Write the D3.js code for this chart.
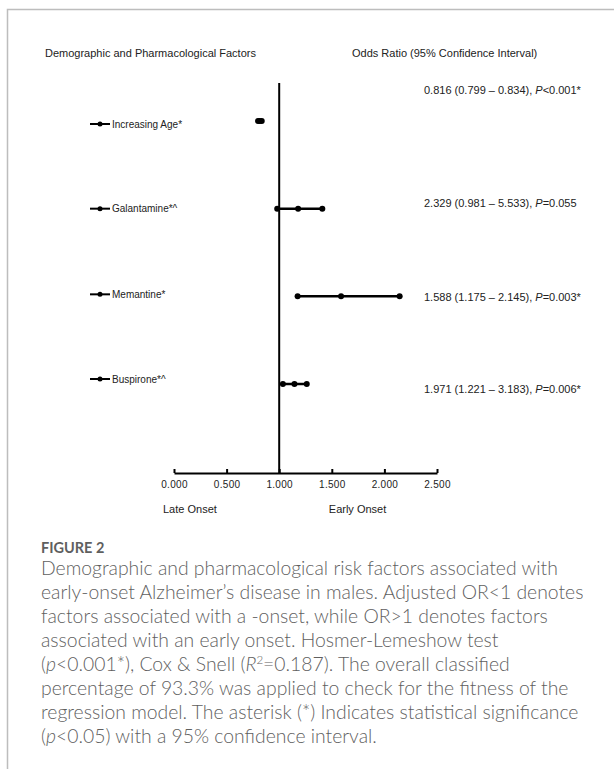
<!DOCTYPE html>
<html>
<head>
<meta charset="utf-8">
<script src="https://cdn.jsdelivr.net/npm/d3@7"></script>
<style>
  html, body { margin: 0; padding: 0; background: #fff; }
  svg { display: block; }
</style>
</head>
<body>
<div id="chart"></div>
<script>
// --- data ---
const factors = ['Increasing Age*', 'Galantamine*^', 'Memantine*', 'Buspirone*^']
// plotted whiskers (lower CI, OR, upper CI) as drawn on the axis
const ciLow  = [0.799, 0.981, 1.175, 1.035]
const orMid  = [0.816, 1.180, 1.588, 1.145]
const ciHigh = [0.834, 1.410, 2.145, 1.262]
// printed estimates on the right
const orLabels = ['0.816 (0.799 \u2013 0.834), ', '2.329 (0.981 \u2013 5.533), ', '1.588 (1.175 \u2013 2.145), ', '1.971 (1.221 \u2013 3.183), ']
const pLabels  = ['<0.001*', '=0.055', '=0.003*', '=0.006*']
const xTicks   = [0, 0.5, 1, 1.5, 2, 2.5]
const onsetLabels = ['Late Onset', 'Early Onset']

const captionTitle = 'FIGURE 2'
// caption lines, [text, style] pieces: i = italic, s = superscript
const captionLines = [
  [['Demographic and pharmacological risk factors associated with']],
  [['early-onset Alzheimer\u2019s disease in males. Adjusted OR<1 denotes']],
  [['factors associated with a -onset, while OR>1 denotes factors']],
  [['associated with an early onset. Hosmer-Lemeshow test']],
  [['('], ['p', 'i'], ['<0.001*), Cox & Snell ('], ['R', 'i'], ['2', 's'], ['=0.187). The overall classified']],
  [['percentage of 93.3% was applied to check for the fitness of the']],
  [['regression model. The asterisk (*) Indicates statistical significance']],
  [['('], ['p', 'i'], ['<0.05) with a 95% confidence interval.']]
]

// --- layout ---
const width = 614, height = 769
const plotFont = "'Liberation Sans', Arial, sans-serif"
const capFont = "Lato, 'Open Sans', sans-serif"
const axisY = 473
const rowLabelDy = [3, 0, -2, -5]
const estDy = [-31, -6, 1, 5]

const svg = d3.select('#chart').append('svg')
  .attr('width', width)
  .attr('height', height)

// card border (top + left)
svg.append('path')
  .attr('d', `M7.5,${height} V9.5 H${width}`)
  .attr('fill', 'none')
  .attr('stroke', '#bdbdbd')
  .attr('stroke-width', 1.5)

const x = d3.scaleLinear().domain([0, 2.5]).range([174, 437])
const y = d3.scalePoint().domain(factors).range([121, 384])

// headers
svg.append('text')
  .attr('x', 45).attr('y', 57)
  .attr('font-family', plotFont).attr('font-size', 11).attr('fill', '#222')
  .text('Demographic and Pharmacological Factors')
svg.append('text')
  .attr('x', 352).attr('y', 57)
  .attr('font-family', plotFont).attr('font-size', 11).attr('fill', '#222')
  .text('Odds Ratio (95% Confidence Interval)')

// x axis
const axis = d3.axisBottom(x)
  .tickValues(xTicks)
  .tickFormat(d3.format('.3f'))
  .tickSizeInner(-4)
  .tickSizeOuter(0)
  .tickPadding(8)

const gx = svg.append('g')
  .attr('transform', `translate(0, ${axisY})`)
  .call(axis)
gx.select('.domain').attr('stroke', '#000').attr('stroke-width', 2)
gx.selectAll('.tick line').attr('stroke', '#000').attr('stroke-width', 2)
gx.selectAll('.tick text')
  .attr('font-family', plotFont).attr('font-size', 10).attr('fill', '#222')
  .attr('letter-spacing', 0.3)

// line of no effect
svg.append('line')
  .attr('x1', x(1)).attr('x2', x(1))
  .attr('y1', 83).attr('y2', axisY)
  .attr('stroke', '#000').attr('stroke-width', 2)

// onset labels
svg.selectAll('.onset')
  .data(onsetLabels)
  .join('text')
  .attr('class', 'onset')
  .attr('x', (d, i) => i === 0 ? x(0) - 11 : x(1.5) - 3)
  .attr('y', 513)
  .attr('font-family', plotFont).attr('font-size', 11).attr('fill', '#222')
  .text(d => d)

// whiskers
const rows = factors.map((f, i) => ({ f, lo: ciLow[i], mid: orMid[i], hi: ciHigh[i], i }))

svg.selectAll('.ci')
  .data(rows)
  .join('line')
  .attr('class', 'ci')
  .attr('x1', d => x(d.lo)).attr('x2', d => x(d.hi))
  .attr('y1', d => y(d.f)).attr('y2', d => y(d.f))
  .attr('stroke', '#000').attr('stroke-width', 2.5)

svg.selectAll('.pt')
  .data(rows.flatMap(d => [d.lo, d.mid, d.hi].map(v => ({ v, f: d.f }))))
  .join('circle')
  .attr('class', 'pt')
  .attr('cx', d => x(d.v)).attr('cy', d => y(d.f))
  .attr('r', 3)
  .attr('fill', '#000')

// row labels with the little legend marker
const lab = svg.selectAll('.lab')
  .data(rows)
  .join('g')
  .attr('class', 'lab')
  .attr('transform', d => `translate(0, ${y(d.f) + rowLabelDy[d.i]})`)
lab.append('line')
  .attr('x1', 90).attr('x2', 110)
  .attr('stroke', '#000').attr('stroke-width', 2)
lab.append('circle')
  .attr('cx', 100).attr('r', 2.5).attr('fill', '#000')
lab.append('text')
  .attr('x', 112).attr('y', 3.5)
  .attr('font-family', plotFont).attr('font-size', 10).attr('fill', '#222')
  .text(d => d.f)

// printed estimates
const est = svg.selectAll('.est')
  .data(rows)
  .join('text')
  .attr('class', 'est')
  .attr('x', 424)
  .attr('y', d => y(d.f) + estDy[d.i] + 4)
  .attr('font-family', plotFont).attr('font-size', 11).attr('fill', '#222')
est.append('tspan').text(d => orLabels[d.i])
est.append('tspan').attr('font-style', 'italic').text('P')
est.append('tspan').text(d => pLabels[d.i])

// caption
svg.append('text')
  .attr('x', 41).attr('y', 553)
  .attr('font-family', capFont).attr('font-size', 14.5).attr('font-weight', 700)
  .attr('fill', '#5f5f5f')
  .text(captionTitle)

const cap = svg.append('g')
const capLines = cap.selectAll('text')
  .data(captionLines)
  .join('text')
  .attr('x', 41)
  .attr('y', (d, i) => 575 + i * 24)
  .attr('font-family', capFont).attr('font-size', 18).attr('font-weight', 300)
  .attr('fill', '#5f5f5f')
capLines.each(function (pieces) {
  const t = d3.select(this)
  pieces.forEach(([txt, st]) => {
    const sp = t.append('tspan').text(txt)
    if (st === 'i') sp.attr('font-style', 'italic')
    if (st === 's') sp.attr('font-size', '0.6em').attr('baseline-shift', '55%')
  })
})
// fit caption size so lines 1 and 2 end about where they do in the figure
const nodes = capLines.nodes()
const wSum = nodes[0].getComputedTextLength() + nodes[1].getComputedTextLength()
capLines.attr('font-size', 18 * 1060 / wSum)
</script>
</body>
</html>
